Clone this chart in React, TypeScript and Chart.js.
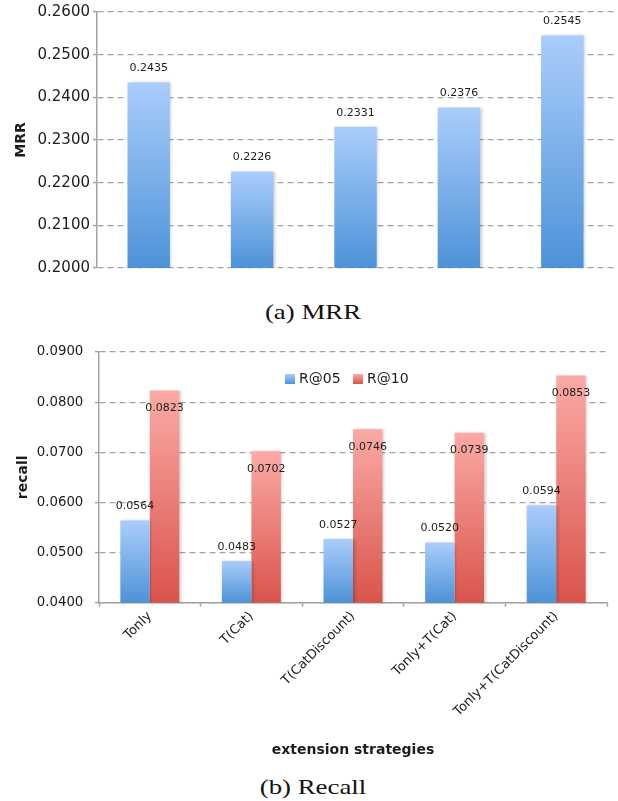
import React, { useEffect, useRef } from "react";
import { Chart, registerables } from "chart.js";

Chart.register(...registerables);

// ---- data ----
const categories = ["Tonly", "T(Cat)", "T(CatDiscount)", "Tonly+T(Cat)", "Tonly+T(CatDiscount)"];
const mrrValues = [0.2435, 0.2226, 0.2331, 0.2376, 0.2545];
const mrrTicks = [0.2, 0.21, 0.22, 0.23, 0.24, 0.25, 0.26];
const recallSeries = ["R@05", "R@10"];
const r05Values = [0.0564, 0.0483, 0.0527, 0.052, 0.0594];
const r10Values = [0.0823, 0.0702, 0.0746, 0.0739, 0.0853];
const recallTicks = [0.04, 0.05, 0.06, 0.07, 0.08, 0.09];
const mrrAxisTitle = "MRR";
const recallAxisTitle = "recall";
const xAxisTitle = "extension strategies";
const captionA = "(a) MRR";
const captionB = "(b) Recall";

// ---- styles ----
const BLUE = ["#aacdfb", "#4d92d8"];
const RED = ["#fbaaa5", "#d9544b"];
const GRID = "#a3a3a3";
const TEXT = "#1c1c1c";
const SANS = "'DejaVu Sans', sans-serif";

function gradientFill(colors: string[]) {
  return (ctx: any) => {
    if (ctx.type !== "data") return colors[1];
    const chart = ctx.chart;
    const y = chart.scales && chart.scales.y;
    if (!y || !chart.chartArea) return colors[1];
    const top = y.getPixelForValue(ctx.raw);
    const bottom = y.getPixelForValue(y.min);
    if (!isFinite(top) || !isFinite(bottom) || top === bottom) return colors[1];
    const g = chart.ctx.createLinearGradient(0, top, 0, bottom);
    g.addColorStop(0, colors[0]);
    g.addColorStop(1, colors[1]);
    return g;
  };
}

const shadowPlugin = {
  id: "barShadow",
  beforeDatasetsDraw(chart: any) {
    const c = chart.ctx;
    c.save();
    c.shadowColor = "rgba(0,0,0,0.22)";
    c.shadowBlur = 3;
    c.shadowOffsetX = 1.5;
    c.shadowOffsetY = 0;
  },
  afterDatasetsDraw(chart: any) {
    chart.ctx.restore();
  },
};

const valueLabelPlugin = {
  id: "valueLabels",
  afterDraw(chart: any) {
    const c = chart.ctx;
    c.save();
    c.font = `11px ${SANS}`;
    c.fillStyle = TEXT;
    c.textAlign = "center";
    c.textBaseline = "middle";
    chart.data.datasets.forEach((ds: any, i: number) => {
      const meta = chart.getDatasetMeta(i);
      meta.data.forEach((el: any, j: number) => {
        const v = ds.data[j];
        const y = ds.labelInside ? el.y + 17.5 : el.y - 14;
        c.fillText(Number(v).toFixed(4), el.x, y);
      });
    });
    c.restore();
  },
};

const legendPlugin = {
  id: "insideLegend",
  afterDraw(chart: any) {
    const { ctx: c, chartArea } = chart;
    const yc = chartArea.top + 27;
    const starts = [chartArea.left + 186, chartArea.left + 254];
    const fills = [BLUE, RED];
    c.save();
    c.font = `14px ${SANS}`;
    c.fillStyle = TEXT;
    c.textBaseline = "middle";
    chart.data.datasets.forEach((ds: any, i: number) => {
      const x = starts[i];
      const g = c.createLinearGradient(0, yc - 5, 0, yc + 5);
      g.addColorStop(0, fills[i][0]);
      g.addColorStop(1, fills[i][1]);
      c.fillStyle = g;
      c.fillRect(x, yc - 5, 10, 10);
      c.fillStyle = TEXT;
      c.textAlign = "left";
      c.fillText(ds.label, x + 14, yc);
    });
    c.restore();
  },
};

function MrrChart() {
  const ref = useRef<HTMLCanvasElement | null>(null);
  useEffect(() => {
    if (!ref.current) return;
    const chart = new Chart(ref.current, {
      type: "bar",
      data: {
        labels: categories,
        datasets: [
          {
            label: mrrAxisTitle,
            data: mrrValues,
            backgroundColor: gradientFill(BLUE),
            borderWidth: 0,
            barPercentage: 1,
            categoryPercentage: 0.41,
          } as any,
        ],
      },
      options: {
        responsive: false,
        animation: false,
        layout: { padding: { top: 9.5, right: 4, bottom: 17, left: 0 } },
        plugins: { legend: { display: false }, tooltip: { enabled: false } },
        scales: {
          x: { display: false },
          y: {
            min: mrrTicks[0],
            max: mrrTicks[mrrTicks.length - 1],
            afterBuildTicks: (s: any) => {
              s.ticks = mrrTicks.map((v) => ({ value: v }));
            },
            afterFit: (s: any) => {
              s.width = 97;
            },
            ticks: {
              callback: (v: any) => Number(v).toFixed(4),
              font: { family: SANS, size: 15 },
              color: TEXT,
              padding: 3,
            },
            grid: {
              color: GRID,
              lineWidth: 1.2,
              tickLength: 4,
              tickColor: GRID,
              tickWidth: 1.5,
              tickBorderDash: [],
            },
            border: { display: true, color: GRID, width: 1.5, dash: [6, 4] },
            title: {
              display: true,
              text: mrrAxisTitle,
              color: TEXT,
              font: { family: SANS, size: 14, weight: "bold" },
              padding: { top: 12.5, bottom: 0 },
            },
          } as any,
        },
      },
      plugins: [shadowPlugin, valueLabelPlugin],
    });
    return () => chart.destroy();
  }, []);
  return (
    <canvas
      ref={ref}
      width={618}
      height={285}
      style={{ position: "absolute", left: 0, top: 0, width: 618, height: 285 }}
    />
  );
}

function RecallChart() {
  const ref = useRef<HTMLCanvasElement | null>(null);
  useEffect(() => {
    if (!ref.current) return;
    const chart = new Chart(ref.current, {
      type: "bar",
      data: {
        labels: categories,
        datasets: [
          {
            label: recallSeries[0],
            data: r05Values,
            backgroundColor: gradientFill(BLUE),
            borderWidth: 0,
            barPercentage: 1,
            categoryPercentage: 0.58,
            labelInside: false,
          } as any,
          {
            label: recallSeries[1],
            data: r10Values,
            backgroundColor: gradientFill(RED),
            borderWidth: 0,
            barPercentage: 1,
            categoryPercentage: 0.58,
            labelInside: true,
          } as any,
        ],
      },
      options: {
        responsive: false,
        animation: false,
        layout: { padding: { top: 22, right: 11, bottom: 0, left: 0 } },
        plugins: { legend: { display: false }, tooltip: { enabled: false } },
        scales: {
          x: {
            afterFit: (s: any) => {
              s.height = 157.3;
            },
            ticks: {
              font: { family: SANS, size: 13 },
              color: TEXT,
              minRotation: 45,
              maxRotation: 45,
              autoSkip: false,
              padding: 2,
            },
            grid: {
              drawOnChartArea: false,
              drawTicks: true,
              tickLength: 4,
              tickColor: GRID,
              tickWidth: 1.5,
              offset: true,
            },
            border: { display: true, color: GRID, width: 1.5 },
            title: {
              display: true,
              text: xAxisTitle,
              color: TEXT,
              font: { family: SANS, size: 14, weight: "bold" },
              padding: { top: 0, bottom: 1.4 },
            },
          } as any,
          y: {
            min: recallTicks[0],
            max: recallTicks[recallTicks.length - 1],
            afterBuildTicks: (s: any) => {
              s.ticks = recallTicks.map((v) => ({ value: v }));
            },
            afterFit: (s: any) => {
              s.width = 99;
            },
            ticks: {
              callback: (v: any) => Number(v).toFixed(4),
              font: { family: SANS, size: 13.3 },
              color: TEXT,
              padding: 11.7,
            },
            grid: {
              color: GRID,
              lineWidth: 1.2,
              tickLength: 4,
              tickColor: GRID,
              tickWidth: 1.5,
              tickBorderDash: [],
            },
            border: { display: true, color: GRID, width: 1.5, dash: [6, 4] },
            title: {
              display: true,
              text: recallAxisTitle,
              color: TEXT,
              font: { family: SANS, size: 14, weight: "bold" },
              padding: { top: 15, bottom: 0 },
            },
          } as any,
        },
      },
      plugins: [shadowPlugin, valueLabelPlugin, legendPlugin],
    });
    return () => chart.destroy();
  }, []);
  return (
    <canvas
      ref={ref}
      width={618}
      height={430}
      style={{ position: "absolute", left: 0, top: 330, width: 618, height: 430 }}
    />
  );
}

const captionStyle: React.CSSProperties = {
  position: "absolute",
  left: 4,
  width: 618,
  textAlign: "center",
  fontFamily: "'Liberation Serif', serif",
  fontSize: 22,
  lineHeight: "22px",
  color: "#111",
  transform: "scaleX(1.22)",
  whiteSpace: "nowrap",
};

export default function App() {
  return (
    <div
      style={{
        position: "absolute",
        left: 0,
        top: 0,
        width: 618,
        height: 801,
        background: "#ffffff",
        overflow: "hidden",
      }}
    >
      <MrrChart />
      <div style={{ ...captionStyle, top: 301 }}>{captionA}</div>
      <RecallChart />
      <div style={{ ...captionStyle, top: 775.6 }}>{captionB}</div>
    </div>
  );
}
